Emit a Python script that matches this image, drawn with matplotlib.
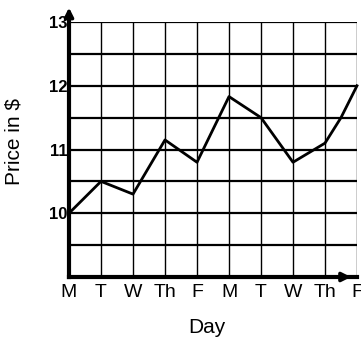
import matplotlib
matplotlib.use('Agg')
import matplotlib.pyplot as plt

days = ['M', 'T', 'W', 'Th', 'F', 'M', 'T', 'W', 'Th', 'F']
price_x = [0, 1, 2, 3, 4, 5, 6, 7, 8, 8.5, 9]
price_y = [10.0, 10.5, 10.3, 11.15, 10.8, 11.83, 11.5, 10.8, 11.1, 11.5, 12.0]
y_ticks = [10, 11, 12, 13]

plt.rcParams['font.family'] = ['Liberation Sans', 'DejaVu Sans']

fig = plt.figure(figsize=(3.61, 3.41), dpi=100)
ax = fig.add_axes([69 / 361, 64 / 341, 288 / 361, 255 / 341])

# grid
for i in range(1, 10):
    ax.axvline(i, color='black', lw=1.0, zorder=1)
for k in range(1, 9):
    ax.axhline(9 + k * 0.5, color='black', lw=1.6, zorder=1)

ax.plot(price_x, price_y, color='black', lw=2.0, zorder=3, clip_on=False)

ax.set_xlim(0, 9)
ax.set_ylim(9, 13)
ax.set_xticks(range(len(days)))
ax.set_xticklabels(days, fontsize=14)
ax.set_yticks(y_ticks)
ax.set_yticklabels([str(v) for v in y_ticks], fontsize=12, fontweight='bold')
ax.tick_params(length=0, pad=1)
ax.tick_params(axis='x', pad=5)

for s in ['top', 'right']:
    ax.spines[s].set_visible(False)
ax.spines['left'].set_linewidth(3)
ax.spines['bottom'].set_linewidth(3)

# axis arrows
ax.annotate('', xy=(0, 13.27), xytext=(0, 12.9), xycoords='data',
            arrowprops=dict(arrowstyle='-|>', color='black', lw=2.5, mutation_scale=13),
            annotation_clip=False)
ax.annotate('', xy=(8.9, 9), xytext=(8.4, 9), xycoords='data',
            arrowprops=dict(arrowstyle='-|>', color='black', lw=2.5, mutation_scale=13),
            annotation_clip=False)

ax.set_xlabel('Day', fontsize=15)
ax.set_ylabel('Price in $', fontsize=15)
ax.xaxis.set_label_coords(0.479, -0.198)
ax.xaxis.label.set_va('center')
ax.yaxis.set_label_coords(-0.191, 0.533)
ax.yaxis.label.set_va('center')

fig.savefig('out.png', dpi=100)
